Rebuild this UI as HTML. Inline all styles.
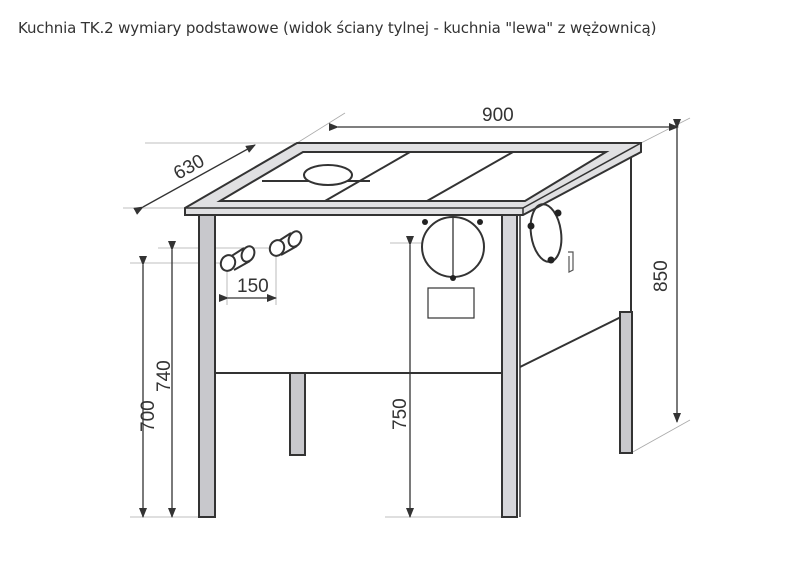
<!DOCTYPE html>
<html><head><meta charset="utf-8"><style>
body{margin:0;background:#fff;width:785px;height:565px;overflow:hidden}
.t{position:absolute;left:18px;top:19px;font:15px "DejaVu Sans","Liberation Sans",sans-serif;color:#333;letter-spacing:-0.15px}
svg{position:absolute;left:0;top:0}
text{font-family:"Liberation Sans",sans-serif;font-size:19px;fill:#333}
</style></head><body>
<div class="t">Kuchnia TK.2 wymiary podstawowe (widok ściany tylnej - kuchnia "lewa" z wężownicą)</div>
<svg width="785" height="565" viewBox="0 0 785 565">
<defs><marker id="a" markerWidth="10" markerHeight="8" refX="9" refY="4" orient="auto" markerUnits="userSpaceOnUse"><path d="M0,0 L10,4 L0,8z" fill="#333"/></marker></defs>
<g stroke="#aaa" stroke-width="0.8" fill="none">
<line x1="123" y1="208" x2="185" y2="208"/><line x1="145" y1="143" x2="297" y2="143"/>
<line x1="297" y1="143" x2="345" y2="113"/><line x1="641" y1="143" x2="690" y2="118"/>
<line x1="631" y1="453" x2="690" y2="420"/>
<line x1="130" y1="517" x2="200" y2="517"/><line x1="385" y1="517" x2="502" y2="517"/>
<line x1="130" y1="263" x2="227" y2="263"/><line x1="158" y1="248" x2="276" y2="248"/>
<line x1="390" y1="243" x2="485" y2="243"/>
<line x1="227" y1="263" x2="227" y2="305"/><line x1="276" y1="248" x2="276" y2="305"/>
</g>
<g stroke="#333" stroke-width="1.3" fill="none">
<line x1="338" y1="127" x2="678" y2="127" marker-start="url(#a)" marker-end="url(#a)"/>
<line x1="677" y1="128" x2="677" y2="422" marker-start="url(#a)" marker-end="url(#a)"/>
<line x1="143" y1="207" x2="255" y2="145" marker-start="url(#a)" marker-end="url(#a)"/>
<line x1="143" y1="265" x2="143" y2="517" marker-start="url(#a)" marker-end="url(#a)"/>
<line x1="172" y1="250" x2="172" y2="517" marker-start="url(#a)" marker-end="url(#a)"/>
<line x1="410" y1="245" x2="410" y2="517" marker-start="url(#a)" marker-end="url(#a)"/>
<line x1="228" y1="298" x2="276" y2="298" marker-start="url(#a)" marker-end="url(#a)"/>
</g>
<text x="482" y="121">900</text>
<text x="237" y="292">150</text>
<text transform="translate(667,292) rotate(-90)">850</text>
<text transform="translate(154,432) rotate(-90)">700</text>
<text transform="translate(170,392) rotate(-90)">740</text>
<text transform="translate(406,430) rotate(-90)">750</text>
<text transform="translate(178,180) rotate(-29)">630</text>
<g stroke="#333" stroke-width="2" fill="#fff">
<path d="M520,215 L631,152 L631,312 L520,367" fill="#fff"/>
<rect x="620" y="312" width="12" height="141" fill="#c8c8cc"/>
<rect x="290" y="373" width="15" height="82" fill="#c8c8cc"/>
<line x1="215" y1="373" x2="502" y2="373"/>
<rect x="199" y="215" width="16" height="302" fill="#c8c8cc"/>
<rect x="502" y="215" width="15" height="302" fill="#d6d6da"/>
<line x1="520" y1="215" x2="520" y2="517" stroke-width="1.5"/>
<path d="M185,208 L297,143 L641,143 L641,152 L523,215 L185,215 Z" fill="#e0e0e2"/>
<line x1="185" y1="208" x2="523" y2="208" stroke-width="1.5"/>
<line x1="523" y1="208" x2="641" y2="143" stroke-width="1.5"/>
<line x1="523" y1="208" x2="523" y2="215" stroke-width="1.5"/>
<path d="M220,201 L303,152 L606,152 L525,201 Z" fill="#fff"/>
<line x1="325" y1="201" x2="410" y2="152"/><line x1="427" y1="201" x2="513" y2="152"/>
<line x1="262" y1="181" x2="370" y2="181"/>
<ellipse cx="328" cy="175" rx="24" ry="10" fill="#fff"/>
<path d="M232,257 L245,248 L252,258 L238,267Z" stroke="none"/>
<path d="M230,257 L244,248 M234,270 L250,261" />
<ellipse cx="248" cy="254" rx="6" ry="8" transform="rotate(25 248 254)"/>
<ellipse cx="228" cy="263" rx="7" ry="8" transform="rotate(25 228 263)"/>
<path d="M279,241 L293,232 L299,242 L285,251Z" stroke="none"/>
<path d="M277,242 L291,233 M281,255 L297,246" />
<ellipse cx="295" cy="239" rx="6" ry="8" transform="rotate(25 295 239)"/>
<ellipse cx="277" cy="248" rx="7" ry="8" transform="rotate(25 277 248)"/>
<ellipse cx="453" cy="247" rx="31" ry="30"/>
<line x1="453" y1="217" x2="453" y2="277" stroke-width="1.3"/>
<rect x="428" y="288" width="46" height="30" stroke-width="1.2"/>
<ellipse cx="546" cy="233" rx="15" ry="29" transform="rotate(-8 546 233)" fill="none"/>
</g>
<g fill="#222">
<circle cx="425" cy="222" r="3"/><circle cx="480" cy="222" r="3"/><circle cx="453" cy="278" r="3"/>
<circle cx="558" cy="213" r="3.5"/><circle cx="531" cy="226" r="3.5"/><circle cx="551" cy="260" r="3.5"/>
</g>
<path d="M568,252 L573,252 L573,270 L569,272 L569,256" stroke="#555" stroke-width="1.2" fill="none"/>
</svg>
</body></html>
